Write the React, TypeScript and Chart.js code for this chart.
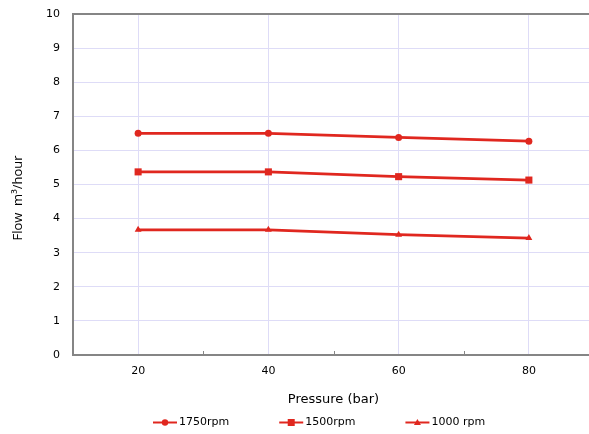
import React, { useEffect, useRef } from "react";
import { Chart, registerables } from "chart.js";

Chart.register(...registerables);

const pressures = [20, 40, 60, 80];
const flow1750 = [6.5, 6.5, 6.38, 6.27];
const flow1500 = [5.37, 5.37, 5.23, 5.13];
const flow1000 = [3.67, 3.67, 3.53, 3.43];
const seriesLabels = ["1750rpm", "1500rpm", "1000 rpm"];
const majorXTicks = [20, 40, 60, 80];
const minorXTicks = [30, 50, 70];

const RED = "#e0271f";
const GRID = "#dedcf7";
const AXIS = "#858585";

const minorTickPlugin = {
  id: "minorTicks",
  afterDraw(chart: any) {
    const { ctx, chartArea } = chart;
    const xs = chart.scales.x;
    ctx.save();
    ctx.strokeStyle = AXIS;
    ctx.lineWidth = 1;
    minorXTicks.forEach((v) => {
      const px = Math.round(xs.getPixelForValue(v)) + 0.5;
      ctx.beginPath();
      ctx.moveTo(px, chartArea.bottom - 4);
      ctx.lineTo(px, chartArea.bottom);
      ctx.stroke();
    });
    ctx.restore();
  },
};

const legendPlugin = {
  id: "lineLegend",
  afterDraw(chart: any) {
    const { ctx, chartArea } = chart;
    ctx.save();
    ctx.font = '11px "DejaVu Sans"';
    ctx.textBaseline = "middle";
    ctx.textAlign = "left";
    let x = chartArea.left + 80;
    const y = chart.height - 11.5;
    chart.data.datasets.forEach((ds: any) => {
      ctx.strokeStyle = ds.borderColor;
      ctx.fillStyle = ds.borderColor;
      ctx.lineWidth = 2;
      ctx.beginPath();
      ctx.moveTo(x, y);
      ctx.lineTo(x + 24, y);
      ctx.stroke();
      const cx = x + 12;
      ctx.beginPath();
      if (ds.pointStyle === "circle") {
        ctx.arc(cx, y, 3.2, 0, Math.PI * 2);
      } else if (ds.pointStyle === "rect") {
        ctx.rect(cx - 3.5, y - 3.5, 7, 7);
      } else {
        ctx.moveTo(cx, y - 3.5);
        ctx.lineTo(cx + 3.5, y + 2.5);
        ctx.lineTo(cx - 3.5, y + 2.5);
        ctx.closePath();
      }
      ctx.fill();
      ctx.fillStyle = "#000";
      ctx.fillText(ds.label, x + 26, y);
      x += 26 + ctx.measureText(ds.label).width + 50;
    });
    ctx.restore();
  },
};

export default function App() {
  const ref = useRef<HTMLCanvasElement>(null);

  useEffect(() => {
    if (!ref.current) return;
    Chart.defaults.font.family = '"DejaVu Sans", sans-serif';
    const mk = (label: string, vals: number[], style: string, radius: number) => ({
      label,
      data: pressures.map((p, i) => ({ x: p, y: vals[i] })),
      borderColor: RED,
      backgroundColor: RED,
      borderWidth: 2.8,
      pointStyle: style,
      pointRadius: radius,
      pointBorderWidth: 0,
      pointBackgroundColor: RED,
      tension: 0,
    });
    const chart = new Chart(ref.current, {
      type: "line",
      data: {
        datasets: [
          mk(seriesLabels[0], flow1750, "circle", 3.5),
          mk(seriesLabels[1], flow1500, "rect", 5),
          mk(seriesLabels[2], flow1000, "triangle", 4),
        ],
      },
      options: {
        animation: false,
        responsive: false,
        layout: { autoPadding: false, padding: { top: 14, bottom: 20, left: 0, right: 0 } },
        plugins: {
          legend: { display: false },
          tooltip: { enabled: false },
        },
        scales: {
          x: {
            type: "linear",
            min: 10,
            max: 90,
            afterFit: (s: any) => {
              s.height = 59;
              s.paddingLeft = 0;
              s.paddingRight = 0;
            },
            afterBuildTicks: (s: any) => {
              s.ticks = [10, 20, 30, 40, 50, 60, 70, 80, 90].map((v) => ({ value: v }));
            },
            ticks: {
              autoSkip: false,
              maxRotation: 0,
              padding: 10,
              color: "#000",
              font: { size: 11 },
              callback: (v: any) => (majorXTicks.includes(Number(v)) ? String(v) : ""),
            },
            grid: {
              drawTicks: false,
              color: (c: any) =>
                c.tick && majorXTicks.includes(c.tick.value) ? GRID : "rgba(0,0,0,0)",
              lineWidth: 1,
            },
            border: { color: AXIS, width: 2 },
            title: {
              display: true,
              text: "Pressure (bar)",
              color: "#000",
              font: { size: 13 },
              padding: { top: 0, bottom: 7 },
            },
          },
          y: {
            min: 0,
            max: 10,
            afterFit: (s: any) => {
              s.width = 73;
              s.paddingTop = 0;
              s.paddingBottom = 0;
            },
            ticks: {
              stepSize: 1,
              padding: 13,
              color: "#000",
              font: { size: 11 },
            },
            grid: {
              drawTicks: false,
              color: (c: any) => (c.tick && c.tick.value === 10 ? AXIS : GRID),
              lineWidth: (c: any) => (c.tick && c.tick.value === 10 ? 2 : 1),
            },
            border: { color: AXIS, width: 2 },
            title: {
              display: true,
              text: "Flow  m³/hour        ",
              color: "#000",
              font: { size: 13, family: '"Open Sans", sans-serif' },
              padding: { top: 10, bottom: 0 },
            },
          },
        },
      },
      plugins: [minorTickPlugin, legendPlugin],
    } as any);
    return () => chart.destroy();
  }, []);

  return (
    <div
      style={{
        position: "absolute",
        left: 0,
        top: 0,
        width: 589,
        height: 434,
        overflow: "hidden",
        background: "#fff",
      }}
    >
      <canvas ref={ref} width={594} height={434} style={{ width: 594, height: 434, display: "block" }} />
    </div>
  );
}
